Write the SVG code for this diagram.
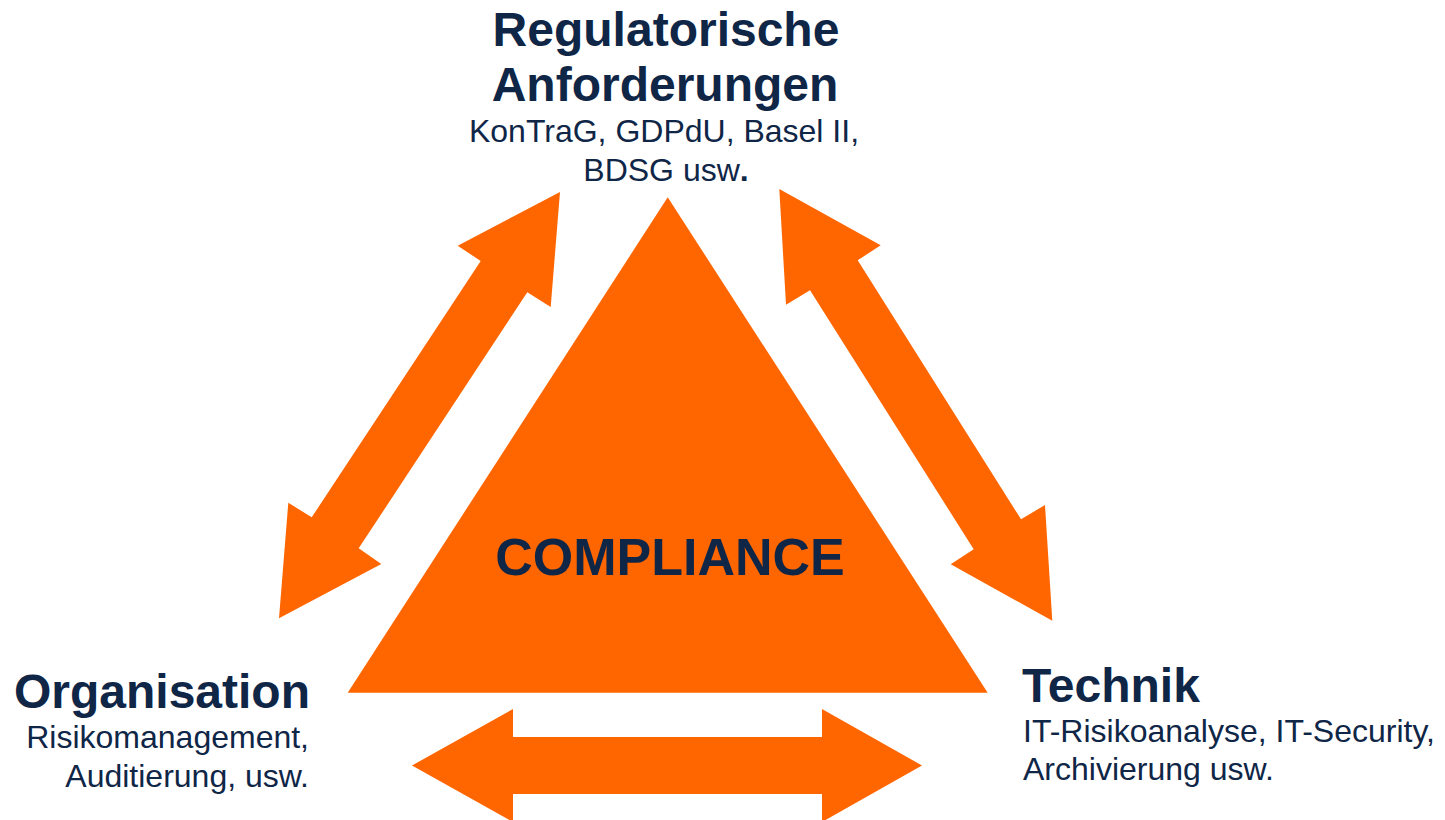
<svg xmlns="http://www.w3.org/2000/svg" width="1445" height="820" viewBox="0 0 1445 820">
  <style>
    .shape { fill: #FF6600; }
    .title { font-family: "Liberation Sans", Arial, sans-serif; font-weight: bold; font-size: 48px; fill: #0F2647; }
    .sub { font-family: "Liberation Sans", Arial, sans-serif; font-size: 32px; fill: #0F2647; }
    .core { font-family: "Liberation Sans", Arial, sans-serif; font-weight: bold; font-size: 52px; fill: #0F2647; }
  </style>
  <rect width="1445" height="820" fill="#FFFFFF"/>

  <!-- central triangle -->
  <g id="compliance">
    <polygon class="shape" points="667.7,197.3 987.7,692.7 347.7,692.7"/>
    <text class="core" x="670" y="575" text-anchor="middle">COMPLIANCE</text>
  </g>

  <!-- double-headed arrows between the three corners -->
  <g id="connectors">
    <polygon class="shape" points="560,192 550.7,307 527.3,292.3 358.7,548.3 381.3,564 279,618.3 288.3,502.7 311.7,517.3 480.7,261 457.7,245.7"/>
    <polygon class="shape" points="779.3,189 880.7,245.3 857.7,260.3 1021,519.3 1045,505 1052.3,620.7 950.7,564.3 973.7,549.3 810,290.3 786,304.7"/>
    <polygon class="shape" points="412,765.5 513,709 513,737 822,737 822,709 922,765.5 822,822 822,794 513,794 513,822"/>
  </g>

  <g id="regulatorik">
    <text class="title" x="666" y="46" text-anchor="middle">Regulatorische</text>
    <text class="title" x="665" y="101" text-anchor="middle">Anforderungen</text>
    <text class="sub" x="664" y="142" text-anchor="middle">KonTraG, GDPdU, Basel II,</text>
    <text class="sub" x="666" y="181" text-anchor="middle">BDSG usw<tspan font-weight="bold">.</tspan></text>
  </g>

  <g id="organisation">
    <text class="title" x="310" y="708" text-anchor="end">Organisation</text>
    <text class="sub" x="309" y="748" text-anchor="end">Risikomanagement,</text>
    <text class="sub" x="309" y="787" text-anchor="end">Auditierung, usw.</text>
  </g>

  <g id="technik">
    <text class="title" x="1022" y="702">Technik</text>
    <text class="sub" x="1023" y="742">IT-Risikoanalyse, IT-Security,</text>
    <text class="sub" x="1023" y="780">Archivierung usw.</text>
  </g>
</svg>
